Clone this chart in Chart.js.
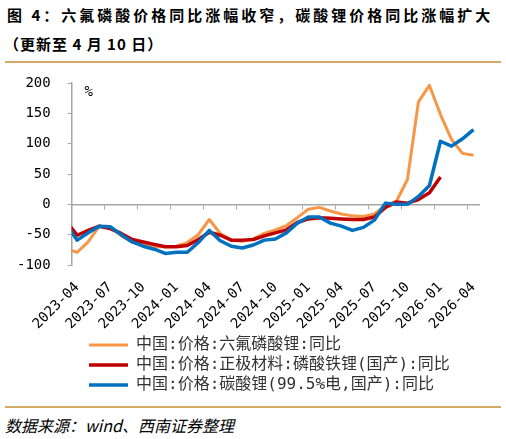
<!DOCTYPE html>
<html><head><meta charset="utf-8">
<script src="https://cdn.jsdelivr.net/npm/chart.js@4.4.1/dist/chart.umd.min.js"></script>
<style>
html,body{margin:0;padding:0;background:#fff;width:506px;height:439px;overflow:hidden;}
.t{position:absolute;font-family:"Noto Sans CJK SC";font-weight:bold;font-size:15px;line-height:20px;white-space:nowrap;color:#000;}
#t1{left:7px;top:5px;letter-spacing:3px;}
#t2{left:4px;top:34px;letter-spacing:1px;}
.rule{position:absolute;left:5px;width:496px;height:2px;background:#D6A866;}
#wrap{position:absolute;left:0;top:64px;width:506px;height:342px;}
#wrap canvas{display:block;}
#src{position:absolute;left:5px;top:415px;font-family:"Noto Sans CJK SC";font-style:italic;font-size:16px;line-height:20px;white-space:nowrap;color:#000;}
</style></head>
<body>
<div class="t" id="t1">图 4：六氟磷酸价格同比涨幅收窄，碳酸锂价格同比涨幅扩大</div>
<div class="t" id="t2">（更新至 4 月 10 日）</div>
<div class="rule" style="top:61px"></div>
<div id="wrap"><canvas id="c" width="506" height="342"></canvas></div>
<div class="rule" style="top:406px"></div>
<div id="src">数据来源：wind、西南证券整理</div>
<script>
const months = ['2023-03','2023-04','2023-05','2023-06','2023-07','2023-08','2023-09','2023-10','2023-11','2023-12','2024-01','2024-02','2024-03','2024-04','2024-05','2024-06','2024-07','2024-08','2024-09','2024-10','2024-11','2024-12','2025-01','2025-02','2025-03','2025-04','2025-05','2025-06','2025-07','2025-08','2025-09','2025-10','2025-11','2025-12','2026-01','2026-02','2026-03','2026-04'];
const tickMonths = ['2023-04','2023-07','2023-10','2024-01','2024-04','2024-07','2024-10','2025-01','2025-04','2025-07','2025-10','2026-01','2026-04'];
const yTicks = [-100,-50,0,50,100,150,200];
const seriesNames = ['中国:价格:六氟磷酸锂:同比','中国:价格:正极材料:磷酸铁锂(国产):同比','中国:价格:碳酸锂(99.5%电,国产):同比'];
const lipf6 = [-74,-79,-62,-36,-38,-52,-62,-67,-70,-70,-69,-63,-50,-25,-48,-59,-61,-57,-48,-42,-35,-22,-8,-5,-11,-16,-19,-20,-16,-2,5,41,169,196,148,107,84,81];
const lfp = [-28,-51,-43,-36,-40,-48,-58,-62,-66,-70,-70,-68,-58,-46,-51,-59,-59,-58,-52,-47,-42,-30,-24,-22,-23,-24,-25,-25,-21,-5,4,2,8,19,45,null,null,null];
const li2co3 = [-33,-59,-47,-36,-37,-50,-62,-69,-74,-81,-79,-79,-63,-43,-60,-69,-72,-67,-59,-57,-47,-31,-21,-21,-31,-36,-43,-38,-26,2,0,0,13,31,104,96,108,123];

const firstIdx = months.indexOf('2023-04');
const xMax = months.length - firstIdx;
const toPts = arr => arr.map((v, i) => ({x: i - firstIdx + 0.5, y: v}));
const boundaryTicks = tickMonths.map(m => ({value: months.indexOf(m) - firstIdx}));
const centerTicks = tickMonths.map(m => ({value: months.indexOf(m) - firstIdx + 0.5}));
const monoFont = '"DejaVu Sans Mono", monospace';

const percentPlugin = {
  id: 'pct',
  beforeDraw(chart) {
    if (chart.legend) chart.legend.left = 85;
  },
  afterDraw(chart) {
    const {ctx, chartArea} = chart;
    ctx.save();
    ctx.font = '14px ' + monoFont;
    ctx.fillStyle = '#000';
    ctx.textAlign = 'center';
    ctx.textBaseline = 'middle';
    ctx.fillText('%', chartArea.left + 17, chartArea.top + 9);
    ctx.restore();
  }
};

const axisGrey = '#A6A6A6';
new Chart(document.getElementById('c'), {
  type: 'line',
  data: {
    datasets: [
      {label: seriesNames[0], data: toPts(lipf6), borderColor: '#F79646', backgroundColor: '#F79646', borderWidth: 3, order: 3},
      {label: seriesNames[1], data: toPts(lfp), borderColor: '#C00000', backgroundColor: '#C00000', borderWidth: 3.5, order: 2},
      {label: seriesNames[2], data: toPts(li2co3), borderColor: '#0070C0', backgroundColor: '#0070C0', borderWidth: 3.5, order: 1}
    ]
  },
  options: {
    responsive: false,
    animation: false,
    devicePixelRatio: 1,
    elements: {point: {radius: 0}, line: {tension: 0, borderJoinStyle: 'round'}},
    layout: {padding: {left: 17, right: 27, top: 19, bottom: 3}},
    plugins: {
      tooltip: {enabled: false},
      legend: {
        position: 'bottom',
        align: 'start',
        labels: {
          sort: (a, b) => a.datasetIndex - b.datasetIndex,
          usePointStyle: true,
          pointStyle: 'line',
          pointStyleWidth: 39,
          boxHeight: 16,
          padding: 4,
          color: '#333',
          font: {family: '"DejaVu Sans Mono", "Noto Sans CJK SC"', size: 16}
        }
      }
    },
    scales: {
      x: {
        type: 'linear', position: {y: 0}, min: 0, max: xMax,
        afterBuildTicks: s => { s.ticks = boundaryTicks.map(t => ({...t})); },
        afterFit: s => { s.paddingLeft = 0; s.paddingRight = 0; s.paddingTop = 0; s.paddingBottom = 0; },
        ticks: {display: false},
        grid: {drawOnChartArea: false, drawTicks: true, tickLength: 4, color: axisGrey, lineWidth: 1},
        border: {display: true, color: axisGrey, width: 1.5}
      },
      x2: {
        type: 'linear', position: 'bottom', min: 0, max: xMax,
        afterBuildTicks: s => { s.ticks = centerTicks.map(t => ({...t})); },
        afterFit: s => { s.paddingLeft = 0; s.paddingRight = 0; s.height = 68; },
        ticks: {
          autoSkip: false, minRotation: 45, maxRotation: 45, padding: 14,
          color: '#000', font: {family: monoFont, size: 14},
          callback: v => months[Math.round(v - 0.5) + firstIdx]
        },
        grid: {display: false, drawTicks: false},
        border: {display: false}
      },
      y: {
        min: -100, max: 200,
        afterBuildTicks: s => { s.ticks = yTicks.map(v => ({value: v})); },
        afterFit: s => { s.paddingTop = 0; s.paddingBottom = 0; s.width = 54.7; },
        ticks: {padding: 17, color: '#000', font: {family: monoFont, size: 14}},
        grid: {drawOnChartArea: false, drawTicks: true, tickLength: 4, color: axisGrey},
        border: {display: true, color: axisGrey, width: 1.5}
      }
    }
  },
  plugins: [percentPlugin]
});
</script>
</body></html>
